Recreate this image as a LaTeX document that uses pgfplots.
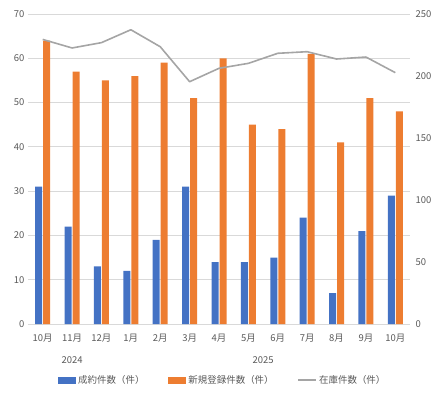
\documentclass[border=0pt]{standalone}
\usepackage{fontspec}
\setmainfont{Noto Sans CJK JP}
\usepackage{pgfplots}
\pgfplotsset{compat=1.18}
\definecolor{cblue}{HTML}{4472C4}
\definecolor{corange}{HTML}{ED7D31}
\definecolor{cgray}{HTML}{A5A5A5}
\definecolor{ctext}{HTML}{595959}
\definecolor{cgrid}{HTML}{D9D9D9}
\begin{document}
\begin{tikzpicture}[font=\fontsize{9.5}{11}\selectfont]
\useasboundingbox (-28bp,-69bp) rectangle (415bp,324bp);
\begin{axis}[
  scale only axis, width=382bp, height=310bp,
  xmin=-0.5, xmax=12.5, ymin=0, ymax=70,
  xtick={0,...,12},
  xticklabels={10月,11月,12月,1月,2月,3月,4月,5月,6月,7月,8月,9月,10月},
  ytick={0,10,...,70},
  ymajorgrids, grid style={cgrid, line width=0.75bp},
  axis line style={draw=none},
  major tick length=0,
  ticklabel style={text=ctext, font=\fontsize{9.5}{11}\selectfont},
  xticklabel style={yshift=-7bp},
  /pgf/number format/assume math mode=true,
  clip=false,
  legend columns=3,
  legend style={at={(axis description cs:0.51,-0.181)}, anchor=center, draw=none, fill=none,
    font=\fontsize{9.5}{11}\selectfont, text=ctext,
    /tikz/every even column/.append style={column sep=22bp}},
]
\addplot[ybar, bar width=7bp, bar shift=-4bp, fill=cblue, draw=none,
  legend image code/.code={\fill[cblue] (0bp,-3.5bp) rectangle (18bp,3.5bp);}]
  coordinates {(0,31) (1,22) (2,13) (3,12) (4,19) (5,31) (6,14) (7,14) (8,15) (9,24) (10,7) (11,21) (12,29)};
\addlegendentry{成約件数（件）}
\addplot[ybar, bar width=7bp, bar shift=4bp, fill=corange, draw=none,
  legend image code/.code={\fill[corange] (0bp,-3.5bp) rectangle (18bp,3.5bp);}]
  coordinates {(0,64) (1,57) (2,55) (3,56) (4,59) (5,51) (6,60) (7,45) (8,44) (9,61) (10,41) (11,51) (12,48)};
\addlegendentry{新規登録件数（件）}
\addlegendimage{legend image code/.code={\draw[cgray, line width=1.5bp] (0bp,0bp) -- (18bp,0bp);}}
\addlegendentry{在庫件数（件）}
\node[text=ctext] at (axis cs:1,0) [yshift=-36bp] {2024};
\node[text=ctext] at (axis cs:7.5,0) [yshift=-36bp] {2025};
\end{axis}
\begin{axis}[
  scale only axis, width=382bp, height=310bp,
  xmin=-0.5, xmax=12.5, ymin=0, ymax=250,
  ytick={0,50,...,250},
  axis y line*=right, axis x line=none,
  axis line style={draw=none},
  major tick length=0,
  ticklabel style={text=ctext, font=\fontsize{9.5}{11}\selectfont},
  yticklabel style={xshift=2bp},
  /pgf/number format/assume math mode=true,
]
\addplot[cgray, line width=1.6bp, line join=round, mark=none]
  coordinates {(0,229.5) (1,222.6) (2,226.9) (3,237.3) (4,223.6) (5,195.4) (6,206.2) (7,210.2) (8,218.3) (9,219.6) (10,213.7) (11,215.3) (12,202.7)};
\end{axis}
\end{tikzpicture}
\end{document}
